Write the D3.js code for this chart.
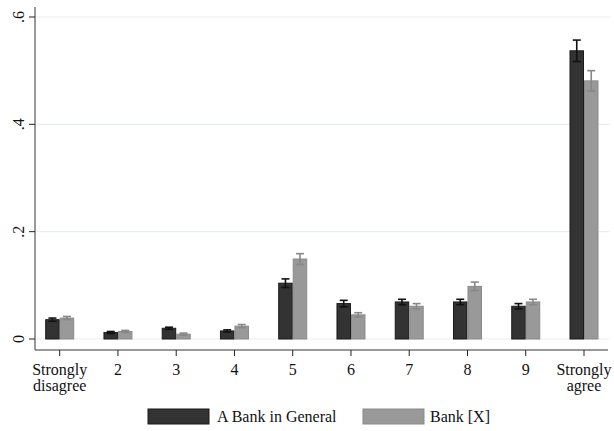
<!DOCTYPE html>
<html><head><meta charset="utf-8">
<script src="https://cdn.jsdelivr.net/npm/d3@7"></script>
<style>body{margin:0;background:#fff}svg{display:block}text{font-family:"Liberation Serif","Times New Roman",serif}</style>
</head><body><svg id="c" width="614" height="431"></svg>
<script>
const categories = ["Strongly\ndisagree","2","3","4","5","6","7","8","9","Strongly\nagree"];
const seriesNames = ["A Bank in General","Bank [X]"];
const general = [0.036,0.012,0.020,0.015,0.104,0.066,0.069,0.069,0.061,0.537];
const generalErr = [0.003,0.002,0.002,0.002,0.008,0.006,0.005,0.005,0.005,0.020];
const bankX = [0.039,0.014,0.009,0.024,0.149,0.045,0.061,0.098,0.069,0.481];
const bankXErr = [0.003,0.002,0.002,0.003,0.010,0.004,0.005,0.008,0.005,0.019];
const yTicks = [0,0.2,0.4,0.6];
const yTickLabels = ["0",".2",".4",".6"];

(function(){
const svg = d3.select("#c");
const pl = 35, pr = 610, pt = 7, pb = 350;
const y = d3.scaleLinear().domain([0,0.6]).range([339,17]);
const x = d3.scalePoint().domain(categories).range([59.7,584]);
const bw = 14.5;
const colors = ["#333333","#999999"];
const strokes = ["#1a1a1a","#8a8a8a"];
const errColors = ["#111111","#888888"];

svg.append("g").selectAll("line").data(yTicks).join("line")
  .attr("x1",pl).attr("x2",pr).attr("y1",d=>y(d)).attr("y2",d=>y(d))
  .attr("stroke","#e8f0f2").attr("stroke-width",1.2);

const series = [{v:general,e:generalErr},{v:bankX,e:bankXErr}];
series.forEach((s,si)=>{
  const g = svg.append("g");
  g.selectAll("rect").data(categories).join("rect")
    .attr("x",(c)=>x(c)-bw+si*bw+0.5).attr("width",bw-1)
    .attr("y",(c,i)=>y(s.v[i])).attr("height",(c,i)=>y(0)-y(s.v[i]))
    .attr("fill",colors[si]).attr("stroke",strokes[si]).attr("stroke-width",1);
  const eg = svg.append("g").attr("stroke",errColors[si]).attr("stroke-width",1.6);
  categories.forEach((c,i)=>{
    const cx = x(c)-bw/2+si*bw;
    const y1 = y(s.v[i]+s.e[i]), y2 = y(s.v[i]-s.e[i]);
    eg.append("line").attr("x1",cx).attr("x2",cx).attr("y1",y1).attr("y2",y2);
    eg.append("line").attr("x1",cx-4).attr("x2",cx+4).attr("y1",y1).attr("y2",y1);
    eg.append("line").attr("x1",cx-4).attr("x2",cx+4).attr("y1",y2).attr("y2",y2);
  });
});

svg.append("line").attr("x1",pl).attr("x2",pl).attr("y1",pt).attr("y2",pb).attr("stroke","#777").attr("stroke-width",1.5);
svg.append("line").attr("x1",pl).attr("x2",pr-2).attr("y1",pb).attr("y2",pb).attr("stroke","#777").attr("stroke-width",1.5);

const yt = svg.append("g");
yTicks.forEach((t,i)=>{
  yt.append("line").attr("x1",pl-6).attr("x2",pl).attr("y1",y(t)).attr("y2",y(t)).attr("stroke","#222").attr("stroke-width",1);
  yt.append("text").attr("transform",`translate(24,${y(t)}) rotate(-90)`).attr("text-anchor","middle")
    .attr("font-size",16).attr("fill","#111").text(yTickLabels[i]);
});
const xt = svg.append("g");
categories.forEach(c=>{
  xt.append("line").attr("x1",x(c)).attr("x2",x(c)).attr("y1",pb).attr("y2",pb+6).attr("stroke","#222");
  const lines = c.split("\n");
  const t = xt.append("text").attr("text-anchor","middle").attr("font-size",16).attr("fill","#111");
  lines.forEach((l,k)=>t.append("tspan").attr("x",x(c)).attr("y",375+k*16).text(l));
});

const leg = svg.append("g");
const lx = [148,363], tx = [217,430];
seriesNames.forEach((n,i)=>{
  leg.append("rect").attr("x",lx[i]).attr("y",409).attr("width",61).attr("height",15)
    .attr("fill",colors[i]).attr("stroke",strokes[i]);
  leg.append("text").attr("x",tx[i]).attr("y",422).attr("font-size",16).attr("fill","#111").text(n);
});
})();
</script></body></html>
